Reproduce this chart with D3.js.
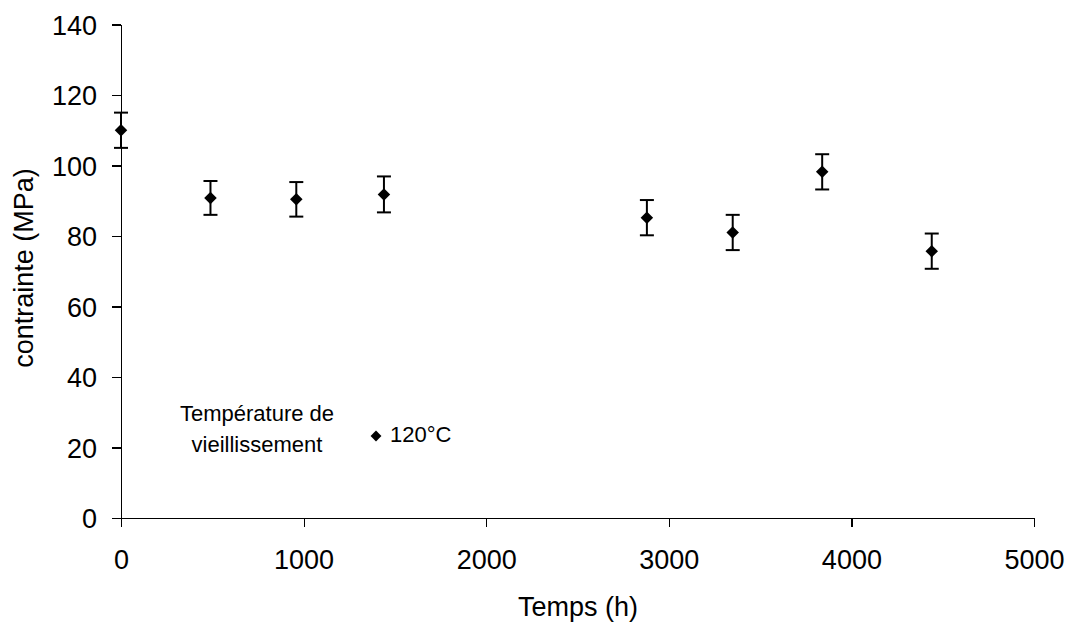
<html>
<head>
<script src="https://d3js.org/d3.v7.min.js"></script>
<style>
  body { margin: 0; background: white; }
  text { font-family: "Liberation Sans", Arial, sans-serif; fill: black; }
</style>
</head>
<body>
<svg id="chart" width="1070" height="626"></svg>
<script>
  // data
  const hours = [0, 490, 960, 1440, 2880, 3350, 3840, 4440];
  const stress = [110, 90.8, 90.4, 91.8, 85.2, 81.0, 98.2, 75.7];
  const errs = [5, 4.8, 4.9, 5.1, 5, 5, 5, 5];
  const xTicks = [0, 1000, 2000, 3000, 4000, 5000];
  const yTicks = [0, 20, 40, 60, 80, 100, 120, 140];

  const svg = d3.select("#chart");
  const margin = { top: 24.5, right: 36, bottom: 108, left: 121 };
  const width = 1070 - margin.left - margin.right;
  const height = 626 - margin.top - margin.bottom;
  const g = svg.append("g").attr("transform", "translate(" + margin.left + "," + margin.top + ")");

  const x = d3.scaleLinear().domain([0, 5000]).range([0, width]);
  const y = d3.scaleLinear().domain([0, 140]).range([height, 0]);

  const xAxis = g.append("g").attr("transform", "translate(0," + height + ")")
    .call(d3.axisBottom(x).tickValues(xTicks).tickFormat(d3.format("d")).tickSize(9).tickPadding(23).tickSizeOuter(0));
  const yAxis = g.append("g")
    .call(d3.axisLeft(y).tickValues(yTicks).tickFormat(d3.format("d")).tickSize(9).tickPadding(15).tickSizeOuter(0));
  [xAxis, yAxis].forEach(a => {
    a.selectAll("path, line").attr("stroke", "black").attr("stroke-width", 1.2).attr("shape-rendering", "crispEdges");
    a.selectAll("text").style("font-size", "27px").style("font-family", "'Liberation Sans', Arial, sans-serif");
  });
  yAxis.selectAll("text").attr("dy", "0.36em");

  const pts = hours.map((h, i) => ({ h: h, v: stress[i], e: errs[i] }));
  const bars = g.selectAll("g.err").data(pts).join("g").attr("class", "err")
    .attr("stroke", "black").attr("stroke-width", 2);
  bars.append("line")
    .attr("x1", d => x(d.h)).attr("x2", d => x(d.h))
    .attr("y1", d => y(d.v + d.e)).attr("y2", d => y(d.v - d.e));
  bars.append("line")
    .attr("x1", d => x(d.h) - 7).attr("x2", d => x(d.h) + 7)
    .attr("y1", d => y(d.v + d.e)).attr("y2", d => y(d.v + d.e));
  bars.append("line")
    .attr("x1", d => x(d.h) - 7).attr("x2", d => x(d.h) + 7)
    .attr("y1", d => y(d.v - d.e)).attr("y2", d => y(d.v - d.e));

  const diamond = d3.symbol().type(d3.symbolDiamond2);
  g.selectAll("path.pt").data(pts).join("path").attr("class", "pt")
    .attr("d", diamond.size(100)())
    .attr("transform", d => "translate(" + x(d.h) + "," + y(d.v) + ")")
    .attr("fill", "black");

  // axis titles
  svg.append("text").attr("x", 578).attr("y", 616).attr("text-anchor", "middle")
    .style("font-size", "27px").text("Temps (h)");
  svg.append("text").attr("transform", "translate(33,268) rotate(-90)").attr("text-anchor", "middle")
    .style("font-size", "27px").text("contrainte (MPa)");

  // legend
  const leg = svg.append("g");
  leg.append("text").attr("x", 257).attr("y", 421).attr("text-anchor", "middle")
    .style("font-size", "22px").text("Température de");
  leg.append("text").attr("x", 257).attr("y", 452).attr("text-anchor", "middle")
    .style("font-size", "22px").text("vieillissement");
  leg.append("path").attr("d", diamond.size(75)()).attr("transform", "translate(376,436)").attr("fill", "black");
  leg.append("text").attr("x", 390).attr("y", 442).style("font-size", "22px").text("120°C");
</script>
</body>
</html>
